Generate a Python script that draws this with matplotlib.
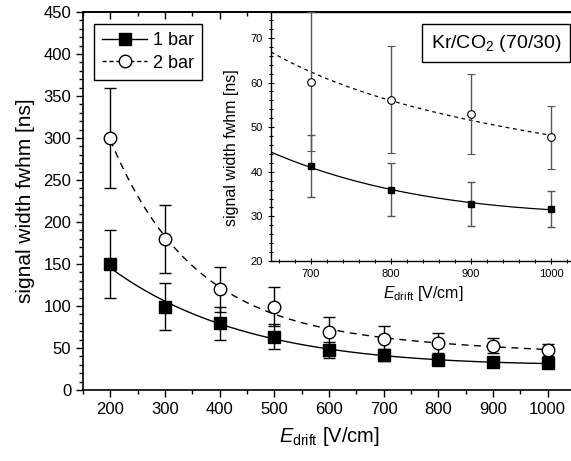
import numpy as np
import matplotlib.pyplot as plt
from matplotlib.lines import Line2D
from matplotlib.ticker import MultipleLocator

plt.rcParams['font.family'] = ['Liberation Sans', 'DejaVu Sans']
plt.rcParams['mathtext.fontset'] = 'custom'
plt.rcParams['mathtext.rm'] = 'Liberation Sans'
plt.rcParams['mathtext.it'] = 'Liberation Sans:italic'

# drift field [V/cm]
field = np.array([200, 300, 400, 500, 600, 700, 800, 900, 1000])

# signal width fwhm [ns] and its error, 1 bar
width_1bar = np.array([150, 99.2, 79.4, 63.5, 47.6, 41.3, 36.0, 32.8, 31.6])
err_1bar = np.array([40, 28, 20, 15, 10, 7, 6, 5, 4])

# signal width fwhm [ns] and its error, 2 bar
width_2bar = np.array([300, 179.8, 119.8, 99.2, 68.5, 60.2, 56.1, 52.9, 47.7])
err_2bar = np.array([60, 40, 27, 23, 19, 15.5, 12, 9, 7])

gas_label = 'Kr/CO$_2$ (70/30)'


def fit_exp2(x, y, w):
    # y = a + b*exp(-x/t1) + c*exp(-x/t2): scan t1, t2, solve a, b, c by weighted lstsq
    best = None
    for t1 in np.linspace(40, 400, 73):
        for t2 in np.linspace(400, 4000, 73):
            A = np.vstack([np.ones_like(x, dtype=float), np.exp(-x / t1), np.exp(-x / t2)]).T
            coef, *_ = np.linalg.lstsq(A * w[:, None], y * w, rcond=None)
            res = np.sum(((A @ coef - y) * w) ** 2)
            if best is None or res < best[0]:
                best = (res, coef, t1, t2)
    _, (a, b, c), t1, t2 = best
    return lambda xx: a + b * np.exp(-xx / t1) + c * np.exp(-xx / t2)


f1 = fit_exp2(field, width_1bar, 1.0 / err_1bar)
f2 = fit_exp2(field, width_2bar, 1.0 / err_2bar)

W, H = 571, 461
fig = plt.figure(figsize=(W / 100, H / 100), dpi=100)

ax = fig.add_axes([83 / W, 1 - 390 / H, (575 - 83) / W, 378 / H])
xx = np.linspace(200, 1000, 300)
ax.plot(xx, f1(xx), color='black', lw=1.0)
ax.plot(xx, f2(xx), color='black', lw=1.0, dashes=(5, 4))
ax.errorbar(field, width_1bar, yerr=err_1bar, fmt='s', ms=8, mfc='black', mec='black',
            ecolor='black', elinewidth=1, capsize=4, capthick=1, zorder=3)
ax.errorbar(field, width_2bar, yerr=err_2bar, fmt='o', ms=9, mfc='white', mec='black',
            mew=1, ecolor='black', elinewidth=1, capsize=4, capthick=1, zorder=3)

ax.set_xlim(150, 1050)
ax.set_ylim(0, 450)
ax.xaxis.set_major_locator(MultipleLocator(100))
ax.xaxis.set_minor_locator(MultipleLocator(50))
ax.yaxis.set_major_locator(MultipleLocator(50))
ax.yaxis.set_minor_locator(MultipleLocator(10))
ax.tick_params(which='both', direction='out', labelsize=12, width=1)
ax.tick_params(which='major', length=5)
ax.tick_params(which='minor', length=3)
for s in ax.spines.values():
    s.set_linewidth(1.2)

# inward ticks along the top edge
top = ax.secondary_xaxis('top')
top.xaxis.set_major_locator(MultipleLocator(100))
top.xaxis.set_minor_locator(MultipleLocator(50))
top.tick_params(which='both', direction='in', labeltop=False, width=1)
top.tick_params(which='major', length=5)
top.tick_params(which='minor', length=3)
top.spines['top'].set_linewidth(1.2)

ax.set_xlabel('$E_{\\rm drift}$ [V/cm]', fontsize=14.5, labelpad=6)
ax.set_ylabel('signal width fwhm [ns]', fontsize=15, labelpad=6)

handles = [Line2D([], [], color='black', lw=1, marker='s', ms=8, mfc='black'),
           Line2D([], [], color='black', lw=1, dashes=(3, 2), marker='o', ms=9, mfc='white')]
ax.legend(handles, ['1 bar', '2 bar'], loc='upper left', bbox_to_anchor=(0.022, 0.968),
          borderaxespad=0, fontsize=13, frameon=True, fancybox=False, edgecolor='black',
          framealpha=1, handlelength=2.5, borderpad=0.45, labelspacing=0.3,
          handletextpad=0.3)
ax.get_legend().get_frame().set_linewidth(1.0)

# inset with the high field range
ins = fig.add_axes([271 / W, 1 - 261 / H, (575 - 271) / W, 249 / H])
xi = np.linspace(650, 1000, 200)
ins.plot(xi, f1(xi), color='black', lw=0.9)
ins.plot(xi, f2(xi), color='black', lw=0.9, dashes=(3, 3))
ins.errorbar(field, width_1bar, yerr=err_1bar, fmt='s', ms=5, mfc='black', mec='black',
             ecolor='#555555', elinewidth=1, capsize=3, capthick=1, zorder=3)
ins.errorbar(field, width_2bar, yerr=err_2bar, fmt='o', ms=5.5, mfc='white', mec='black',
             mew=0.8, ecolor='#555555', elinewidth=1, capsize=3, capthick=1, zorder=3)
ins.set_xlim(650, 1030)
ins.set_ylim(20, 75.8)
ins.xaxis.set_major_locator(MultipleLocator(100))
ins.xaxis.set_minor_locator(MultipleLocator(20))
ins.yaxis.set_major_locator(MultipleLocator(10))
ins.yaxis.set_minor_locator(MultipleLocator(2))
ins.tick_params(which='both', direction='inout', labelsize=8, width=0.8)
ins.tick_params(which='major', length=5)
ins.tick_params(which='minor', length=3)
for s in ins.spines.values():
    s.set_linewidth(1.0)
ins.set_xlabel('$E_{\\rm drift}$ [V/cm]', fontsize=11.5, labelpad=3)
ins.set_ylabel('signal width fwhm [ns]', fontsize=11.5, labelpad=2)
ins.yaxis.set_label_coords(-0.105, 0.454)
ins.text(0.955, 0.875, gas_label, transform=ins.transAxes, ha='right', va='center',
         fontsize=14, bbox=dict(boxstyle='square,pad=0.45', fc='white', ec='black', lw=1))

fig.savefig('out.png', dpi=100)
